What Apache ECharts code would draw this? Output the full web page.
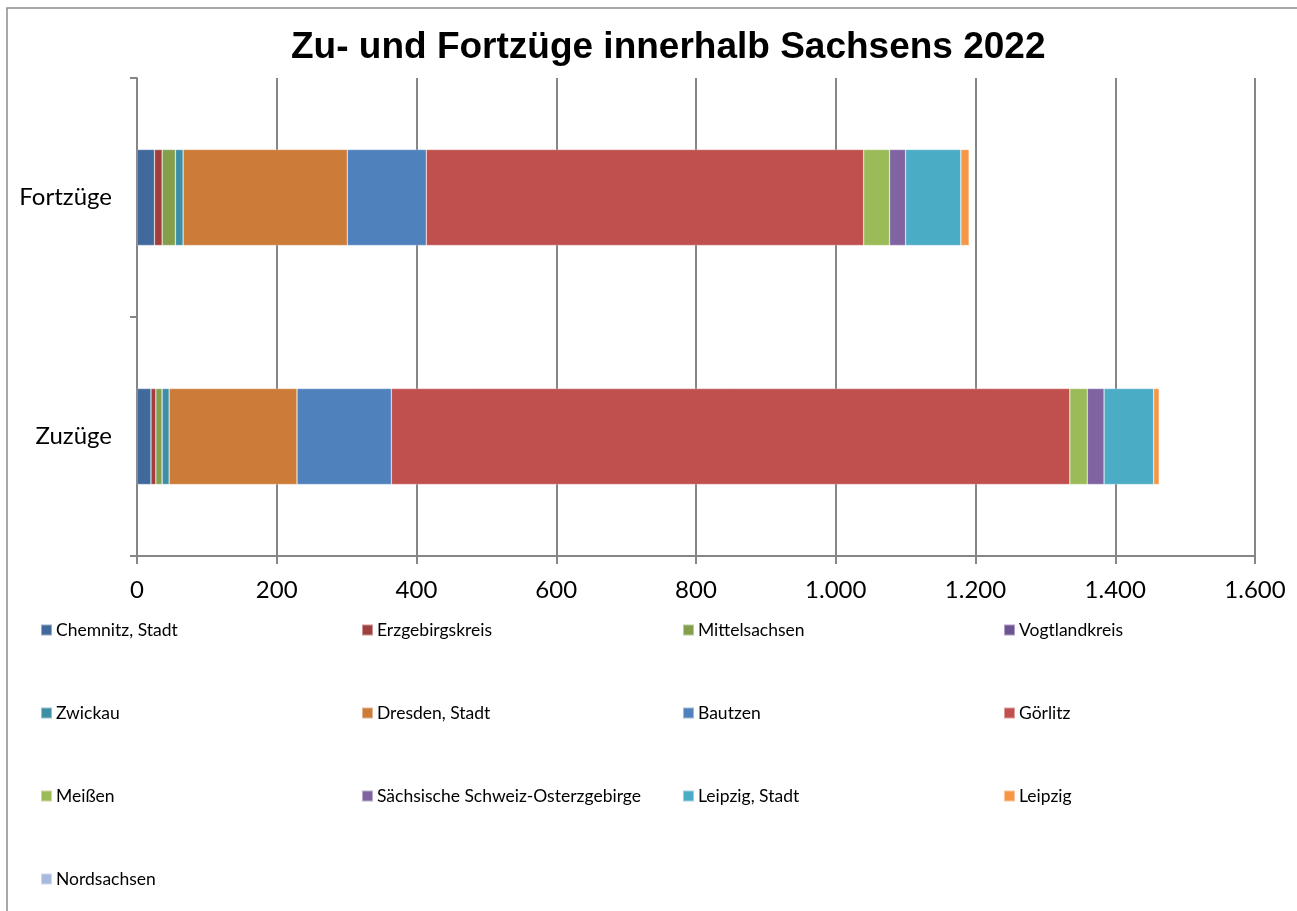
<!DOCTYPE html>
<html>
<head>
<meta charset="utf-8">
<script src="https://cdn.jsdelivr.net/npm/echarts@6/dist/echarts.min.js"></script>
<style>
  html, body { margin: 0; padding: 0; background: #fff; }
  #main { width: 1297px; height: 911px; }
</style>
</head>
<body>
<div id="main"></div>
<script>
// Kategorien (von unten nach oben)
var categories = ['Zuzüge', 'Fortzüge'];

var regions = [
  'Chemnitz, Stadt', 'Erzgebirgskreis', 'Mittelsachsen', 'Vogtlandkreis',
  'Zwickau', 'Dresden, Stadt', 'Bautzen', 'Görlitz',
  'Meißen', 'Sächsische Schweiz-Osterzgebirge', 'Leipzig, Stadt', 'Leipzig',
  'Nordsachsen'
];

var colors = [
  '#40699C', '#A13F3E', '#849E4B', '#6E5392',
  '#3D8FA6', '#CC7B38', '#4F81BD', '#C0504D',
  '#9BBB59', '#8064A2', '#4BACC6', '#F79646',
  '#A7B9DC'
];

// Werte je Kreis: [Zuzüge, Fortzüge]
var zuzuege   = [20, 7, 9, 0, 10, 183, 135, 971, 25, 24, 71, 8, 0];
var fortzuege = [25, 11, 19, 0, 11, 235, 113, 626, 37, 23, 79, 12, 0];

var xTicks = [0, 200, 400, 600, 800, 1000, 1200, 1400, 1600];

var series = regions.map(function (name, i) {
  return {
    name: name,
    type: 'bar',
    stack: 'total',
    barWidth: 96,
    itemStyle: { color: colors[i], borderColor: 'rgba(255,255,255,0.45)', borderWidth: 0.6 },
    emphasis: { disabled: true },
    data: [zuzuege[i], fortzuege[i]]
  };
});

var legendCols = [
  { left: 35,   names: [regions[0], regions[4], regions[8], regions[12]] },
  { left: 356,  names: [regions[1], regions[5], regions[9]] },
  { left: 677,  names: [regions[2], regions[6], regions[10]] },
  { left: 998,  names: [regions[3], regions[7], regions[11]] }
];

var legends = legendCols.map(function (c) {
  return {
    orient: 'vertical',
    left: c.left,
    top: 616,
    itemWidth: 11,
    itemHeight: 11,
    itemGap: 65,
    icon: 'rect',
    selectedMode: false,
    data: c.names,
    textStyle: { fontFamily: 'Lato', fontSize: 17.5, color: '#000', padding: [0, 0, 0, -1] }
  };
});

var chart = echarts.init(document.getElementById('main'));
chart.setOption({
  animation: false,
  title: {
    text: 'Zu- und Fortzüge innerhalb Sachsens 2022',
    left: 286,
    top: 24,
    textStyle: { fontFamily: 'Liberation Sans', fontWeight: 'bold', fontSize: 37, color: '#000' }
  },
  graphic: [{
    type: 'polyline',
    shape: { points: [[7, 920], [7, 8], [1300, 8]] },
    style: { stroke: '#8c8c8c', lineWidth: 1.5, fill: null }
  }],
  legend: legends,
  grid: { left: 137, right: 42, top: 78, bottom: 355 },
  xAxis: {
    type: 'value',
    min: 0,
    max: 1600,
    interval: 200,
    axisLine: { show: true, lineStyle: { color: '#868686', width: 2 } },
    axisTick: { show: true, length: 8, lineStyle: { color: '#868686', width: 2 } },
    splitLine: { show: true, lineStyle: { color: '#868686', width: 2 } },
    axisLabel: {
      margin: 22,
      fontFamily: 'Lato',
      fontSize: 24,
      color: '#000',
      formatter: function (v) {
        return xTicks.indexOf(v) >= 0 ? String(v).replace(/\B(?=(\d{3})+(?!\d))/g, '.') : '';
      }
    }
  },
  yAxis: {
    type: 'category',
    data: categories,
    axisLine: { show: true, lineStyle: { color: '#868686', width: 2 } },
    axisTick: { show: true, length: 7, lineStyle: { color: '#868686', width: 2 } },
    axisLabel: { margin: 25, fontFamily: 'Lato', fontSize: 24, color: '#000' }
  },
  series: series
});
</script>
</body>
</html>
